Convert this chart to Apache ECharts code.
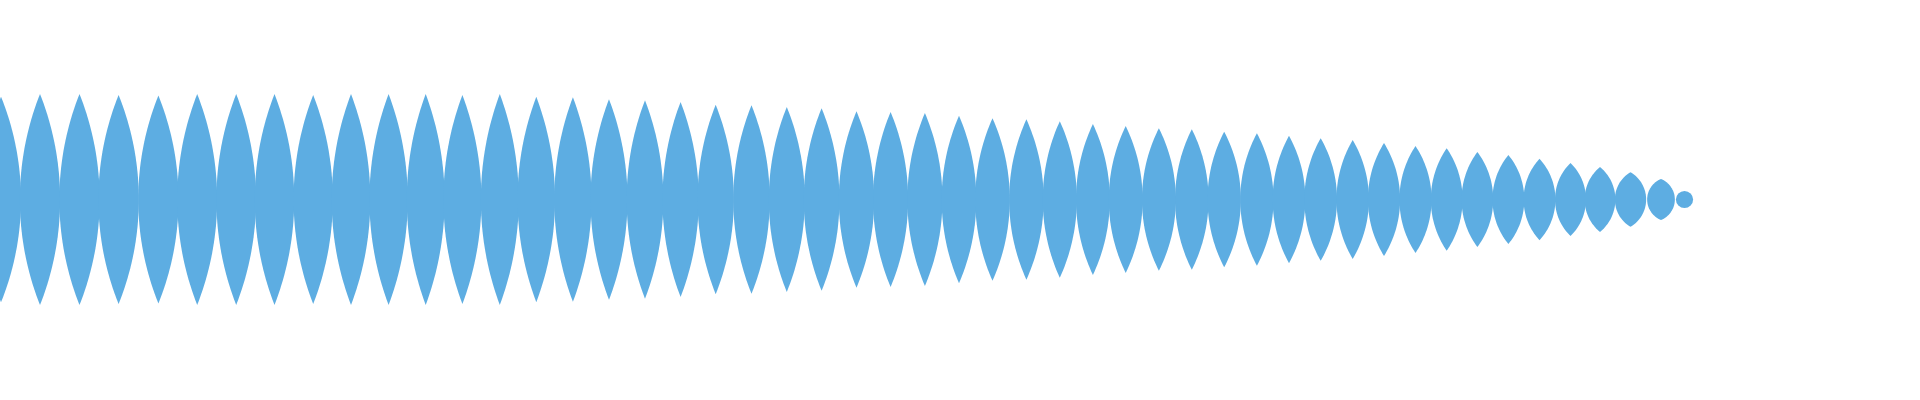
<!DOCTYPE html>
<html>
<head>
<meta charset="utf-8">
<title>wave</title>
<style>
  html, body { margin: 0; padding: 0; background: #fff; }
  #chart { width: 1920px; height: 400px; }
</style>
<script src="https://cdn.jsdelivr.net/npm/echarts@6/dist/echarts.min.js"></script>
</head>
<body>
<div id="chart"></div>
<script>
// centre of each pulse along the track
const positions = [
  1, 40, 79.5, 118.6, 158.4, 197.2, 236.2, 274.5, 313.2, 351,
  388.6, 425.7, 462.4, 499.8, 536.3, 572.9, 609, 645, 680.6, 715.7,
  751.5, 786.8, 821.6, 856.5, 890.6, 924.9, 959, 992.5, 1026.4, 1059.8,
  1092.9, 1125.7, 1158.9, 1191.8, 1224.2, 1256.9, 1289, 1320.7, 1352.7, 1384,
  1415.5, 1446.7, 1477.4, 1508.4, 1539.5, 1570.5, 1600, 1630.5, 1661, 1684.5
];
// peak amplitude of each pulse (symmetric around 0)
const amplitudes = [
  102.8, 105.5, 105.5, 104.5, 104, 105.5, 105.5, 105.5, 104.5, 105.5,
  105.5, 105.5, 104.5, 105.5, 102.7, 102.3, 100.3, 99.3, 97.5, 94.7,
  94.3, 92.5, 91.3, 88.3, 87.5, 86.5, 83.7, 81.3, 80.2, 78.3,
  75.5, 73.5, 71.3, 70.2, 67.8, 66.2, 63.7, 61.3, 59.5, 56.5,
  53.5, 51.3, 47.5, 44.5, 40.7, 36.5, 32.5, 27.3, 20.5, 8.6
];

const color = "#5dade2";
const overlap = 1.026;

const chart = echarts.init(document.getElementById("chart"));

const renderPulse = function (params, api) {
  const i = params.dataIndex;
  const c = api.coord([api.value(0), 0]);
  const top = api.coord([api.value(0), api.value(1)]);
  const h = c[1] - top[1];
  const px = (k) => api.coord([positions[k], 0])[0];
  const n = positions.length;
  const left = i > 0 ? c[0] - px(i - 1) : px(i + 1) - c[0];
  const right = i < n - 1 ? px(i + 1) - c[0] : left;
  const w = Math.min(h, ((left + right) / 4) * overlap);

  if (w >= h - 0.01) {
    return {
      type: "circle",
      shape: { cx: c[0], cy: c[1], r: h },
      style: { fill: color },
    };
  }

  // lens made of two circle arcs
  const R = (w + (h * h) / w) / 2;
  const d = R - w;
  const phi = Math.asin(h / R);
  const steps = 40;
  const pts = [];
  for (let s = 0; s <= steps; s++) {
    const t = -phi + (2 * phi * s) / steps;
    pts.push([c[0] - d + R * Math.cos(t), c[1] + R * Math.sin(t)]);
  }
  for (let s = 0; s <= steps; s++) {
    const t = phi - (2 * phi * s) / steps;
    pts.push([c[0] + d - R * Math.cos(t), c[1] + R * Math.sin(t)]);
  }
  return {
    type: "polygon",
    shape: { points: pts },
    style: { fill: color },
  };
};

chart.setOption({
  animation: false,
  grid: { left: 0, right: 0, top: 93.5, bottom: 94.5 },
  xAxis: { type: "value", min: 0, max: 1920, show: false },
  yAxis: { type: "value", min: -106, max: 106, show: false },
  series: [
    {
      type: "custom",
      renderItem: renderPulse,
      data: positions.map((x, i) => [x, amplitudes[i]]),
    },
  ],
});

window.addEventListener("resize", () => {
  chart.resize();
});
</script>
</body>
</html>
